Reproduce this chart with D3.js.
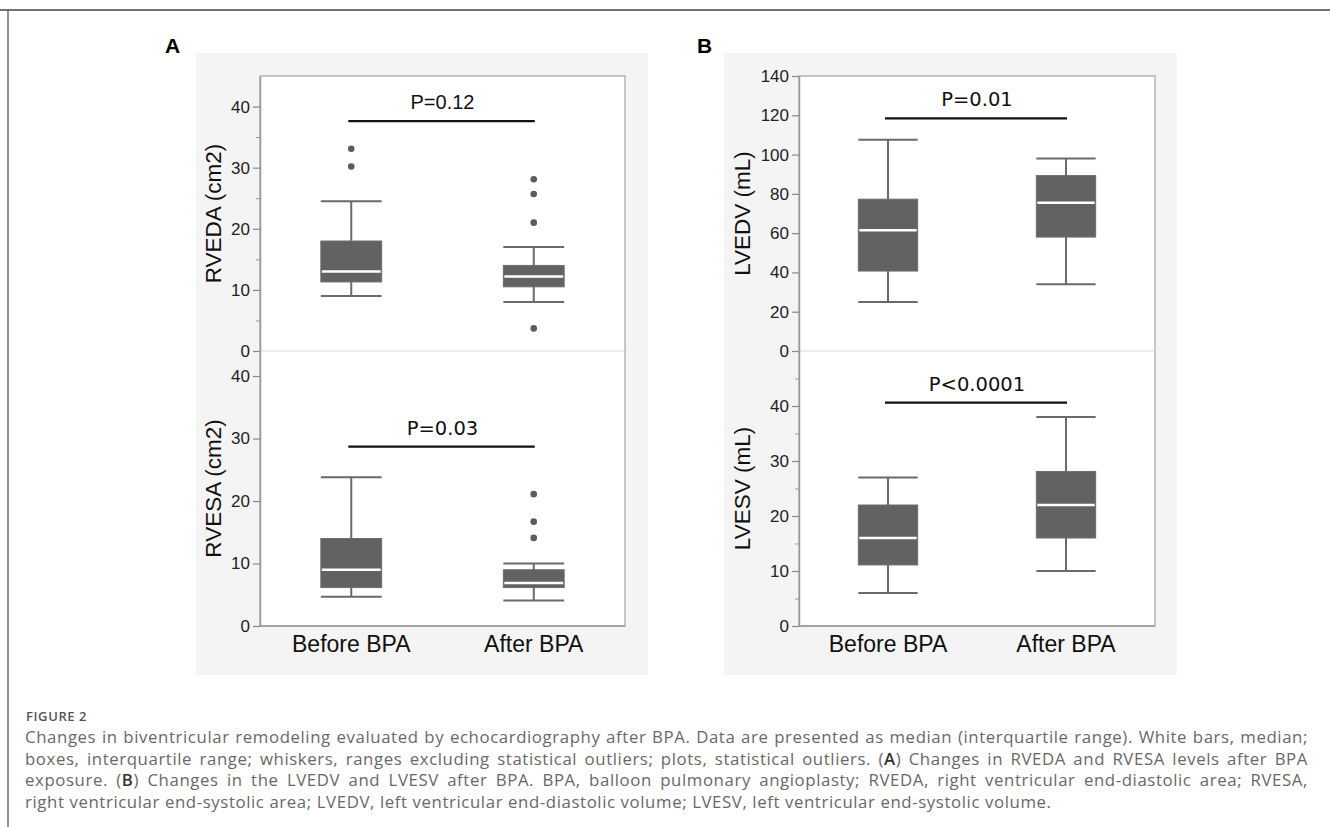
<!DOCTYPE html>
<html>
<head>
<meta charset="utf-8">
<script src="https://cdn.jsdelivr.net/npm/d3@7"></script>
<style>
    body { margin: 0; background: #fff; }
    svg { display: block; }
</style>
</head>
<body>
<div id="chart"></div>
<script>
// groups on the x axis
let groups = ['Before BPA', 'After BPA'];

// box stats per group: [whisker low, q1, median, q3, whisker high]
let rvedaBox = [[9, 11.3, 13, 18, 24.5], [8, 10.5, 12.2, 14, 17]];
let rvedaOut = [[33.1, 30.2], [28.1, 25.7, 21, 3.7]];
let rvesaBox = [[4.7, 6.15, 9, 14, 23.8], [4.1, 6.15, 6.9, 9, 10]];
let rvesaOut = [[], [21.1, 16.7, 14.1]];
let lvedvBox = [[25, 40.7, 61.5, 77.3, 107.5], [34, 58, 75.5, 89.3, 98]];
let lvedvOut = [[], []];
let lvesvBox = [[6, 11.1, 16, 22, 27], [10, 16, 22, 28.1, 38]];
let lvesvOut = [[], []];

// p-value labels and the level of their bar (in axis units)
let pLabels = ['P=0.12', 'P=0.03', 'P=0.01', 'P<0.0001'];
let pLevels = [37.6, 28.7, 118.4, 40.6];

// axis titles and y max per subplot
let yTitles = ['RVEDA (cm2)', 'RVESA (cm2)', 'LVEDV (mL)', 'LVESV (mL)'];
let yMax = [45, 44, 140, 50];
let yMajor = [[0, 10, 20, 30, 40], [0, 10, 20, 30, 40], [0, 20, 40, 60, 80, 100, 120, 140], [0, 10, 20, 30, 40]];
let yMinor = [[5, 15, 25, 35], [], [], [5, 15, 25, 35, 45]];

let captionTitle = 'FIGURE 2';
let captionLines = [
    'Changes in biventricular remodeling evaluated by echocardiography after BPA. Data are presented as median (interquartile range). White bars, median;',
    'boxes, interquartile range; whiskers, ranges excluding statistical outliers; plots, statistical outliers. (A) Changes in RVEDA and RVESA levels after BPA',
    'exposure. (B) Changes in the LVEDV and LVESV after BPA. BPA, balloon pulmonary angioplasty; RVEDA, right ventricular end-diastolic area; RVESA,',
    'right ventricular end-systolic area; LVEDV, left ventricular end-diastolic volume; LVESV, left ventricular end-systolic volume.'
];

let svgWidth = 1331;
let svgHeight = 827;

// layout of the two columns and two rows
let columns = [
    { label: 'A', labelX: 165, bg: [196, 648], plot: [260, 625], titleX: 221 },
    { label: 'B', labelX: 697, bg: [724, 1177], plot: [799, 1155], titleX: 750 }
];
let rows = [[76, 351], [351, 626]];
let bgTop = 53, bgBottom = 675;

let boxFill = '#626262';
let lineGray = '#6a6a6a';

let svg = d3.select('#chart').append('svg')
    .attr('width', svgWidth)
    .attr('height', svgHeight);

// frame lines
svg.append('line').attr('x1', 0).attr('x2', 1330).attr('y1', 10).attr('y2', 10)
    .attr('stroke', '#444').attr('stroke-width', 1.3);
svg.append('line').attr('x1', 8).attr('x2', 8).attr('y1', 10).attr('y2', svgHeight)
    .attr('stroke', '#555').attr('stroke-width', 1.3);

let subplots = [
    { col: 0, row: 0, box: rvedaBox, out: rvedaOut },
    { col: 0, row: 1, box: rvesaBox, out: rvesaOut },
    { col: 1, row: 0, box: lvedvBox, out: lvedvOut },
    { col: 1, row: 1, box: lvesvBox, out: lvesvOut }
];

columns.forEach(function(c) {
    svg.append('rect')
        .attr('x', c.bg[0]).attr('y', bgTop)
        .attr('width', c.bg[1] - c.bg[0]).attr('height', bgBottom - bgTop)
        .attr('fill', '#f4f4f4');

    svg.append('rect')
        .attr('x', c.plot[0]).attr('y', rows[0][0])
        .attr('width', c.plot[1] - c.plot[0]).attr('height', rows[1][1] - rows[0][0])
        .attr('fill', '#fff')
        .attr('stroke', '#b4b4b4').attr('stroke-width', 1.5);

    // divider between the two rows
    svg.append('line')
        .attr('x1', c.plot[0]).attr('x2', c.plot[1])
        .attr('y1', rows[0][1]).attr('y2', rows[0][1])
        .attr('stroke', '#dcdcdc').attr('stroke-width', 1.2);

    svg.append('text')
        .attr('x', c.labelX).attr('y', 53)
        .attr('font-family', 'Liberation Sans, Arial, sans-serif')
        .attr('font-weight', 'bold').attr('font-size', 21)
        .attr('fill', '#000')
        .text(c.label);

    // group labels under the bottom row
    let x = d3.scalePoint().domain(groups).range(c.plot).padding(0.5);
    svg.append('g').selectAll('text')
        .data(groups)
        .enter()
        .append('text')
        .attr('x', d => x(d))
        .attr('y', 652)
        .attr('text-anchor', 'middle')
        .attr('font-family', 'Liberation Sans, Arial, sans-serif')
        .attr('font-size', 23)
        .attr('fill', '#111')
        .text(d => d);
});

subplots.forEach(function(s, i) {
    let c = columns[s.col];
    let r = rows[s.row];
    let g = svg.append('g');

    let x = d3.scalePoint().domain(groups).range(c.plot).padding(0.5);
    let y = d3.scaleLinear().domain([0, yMax[i]]).range([r[1], r[0]]);
    let boxW = x.step() / 3;

    // minor ticks
    let minorAxis = g.append('g')
        .attr('transform', `translate(${c.plot[0]}, 0)`)
        .call(d3.axisLeft(y).tickValues(yMinor[i]).tickSize(4).tickSizeOuter(0).tickFormat(''));
    minorAxis.select('.domain').remove();
    minorAxis.selectAll('line').attr('stroke', '#999');

    // major ticks and left axis line
    let leftAxis = g.append('g')
        .attr('transform', `translate(${c.plot[0]}, 0)`)
        .call(d3.axisLeft(y).tickValues(yMajor[i]).tickSize(7).tickSizeOuter(0).tickPadding(3));
    leftAxis.select('.domain').attr('stroke', '#999').attr('stroke-width', 1.5);
    leftAxis.selectAll('line').attr('stroke', '#888').attr('stroke-width', 1.2);
    leftAxis.selectAll('text')
        .attr('font-family', 'Liberation Sans, Arial, sans-serif')
        .attr('font-size', 17)
        .attr('fill', '#222');

    // axis title
    g.append('text')
        .attr('transform', `translate(${c.titleX}, ${(r[0] + r[1]) / 2}) rotate(-90)`)
        .attr('text-anchor', 'middle')
        .attr('font-family', 'Liberation Sans, Arial, sans-serif')
        .attr('font-size', 22.5)
        .attr('fill', '#111')
        .text(yTitles[i]);

    if (s.row === 1) {
        g.append('line')
            .attr('x1', c.plot[0]).attr('x2', c.plot[1])
            .attr('y1', r[1]).attr('y2', r[1])
            .attr('stroke', '#999').attr('stroke-width', 1.5);
    }

    // boxes
    let boxes = g.selectAll('.box')
        .data(s.box)
        .enter()
        .append('g')
        .classed('box', true)
        .attr('transform', (d, k) => `translate(${x(groups[k])}, 0)`);

    boxes.append('line')
        .attr('x1', 0).attr('x2', 0)
        .attr('y1', d => y(d[0])).attr('y2', d => y(d[4]))
        .attr('stroke', lineGray).attr('stroke-width', 2);

    boxes.selectAll('.cap')
        .data(d => [d[0], d[4]])
        .enter()
        .append('line')
        .classed('cap', true)
        .attr('x1', -boxW / 2).attr('x2', boxW / 2)
        .attr('y1', d => y(d)).attr('y2', d => y(d))
        .attr('stroke', lineGray).attr('stroke-width', 2);

    boxes.append('rect')
        .attr('x', -boxW / 2)
        .attr('y', d => y(d[3]))
        .attr('width', boxW)
        .attr('height', d => y(d[1]) - y(d[3]))
        .attr('fill', boxFill)
        .attr('stroke', '#6e6e6e').attr('stroke-width', 1);

    boxes.append('line')
        .attr('x1', -boxW / 2 + 1).attr('x2', boxW / 2 - 1)
        .attr('y1', d => y(d[2])).attr('y2', d => y(d[2]))
        .attr('stroke', '#fff').attr('stroke-width', 2.5);

    // outliers
    s.out.forEach(function(vals, k) {
        g.selectAll(null)
            .data(vals)
            .enter()
            .append('circle')
            .attr('cx', x(groups[k]))
            .attr('cy', d => y(d))
            .attr('r', 3.3)
            .attr('fill', '#5c5c5c');
    });

    // significance bar
    g.append('line')
        .attr('x1', x(groups[0]) - 3).attr('x2', x(groups[1]) + 1)
        .attr('y1', y(pLevels[i])).attr('y2', y(pLevels[i]))
        .attr('stroke', '#111').attr('stroke-width', 2.2);

    g.append('text')
        .attr('x', (x(groups[0]) + x(groups[1])) / 2)
        .attr('y', y(pLevels[i]) - 12)
        .attr('text-anchor', 'middle')
        .attr('font-family', i === 0 ? 'Liberation Sans, Arial, sans-serif' : 'DejaVu Sans, Verdana, sans-serif')
        .attr('font-size', i === 0 ? 20 : 19.5)
        .attr('fill', '#111')
        .text(pLabels[i]);
});

// caption
let captionFont = 'Open Sans, sans-serif';
svg.append('text')
    .attr('x', 26).attr('y', 721)
    .attr('font-family', captionFont)
    .attr('font-size', 13)
    .attr('font-weight', 600)
    .attr('letter-spacing', 0.6)
    .attr('fill', '#555')
    .text(captionTitle);

let captionWidth = 1283;
captionLines.forEach(function(line, k) {
    let t = svg.append('text')
        .attr('x', 25).attr('y', 743 + k * 21.7)
        .attr('font-family', captionFont)
        .attr('font-size', 16.8)
        .attr('letter-spacing', 0.6)
        .attr('fill', '#686868');

    // set (A) and (B) letters darker
    let parts = line.split(/(\([AB]\))/);
    parts.forEach(function(p) {
        let m = p.match(/^\(([AB])\)$/);
        if (m) {
            t.append('tspan').text('(');
            t.append('tspan').attr('fill', '#333').attr('font-weight', 600).text(m[1]);
            t.append('tspan').text(')');
        } else {
            t.append('tspan').text(p);
        }
    });

    // justify all lines but the last one
    if (k < captionLines.length - 1) {
        let len = t.node().getComputedTextLength();
        let spaces = (line.match(/ /g) || []).length;
        if (len <= captionWidth) {
            t.attr('word-spacing', (captionWidth - len) / spaces);
        } else {
            t.attr('textLength', captionWidth).attr('lengthAdjust', 'spacing');
        }
    }
});
</script>
</body>
</html>
